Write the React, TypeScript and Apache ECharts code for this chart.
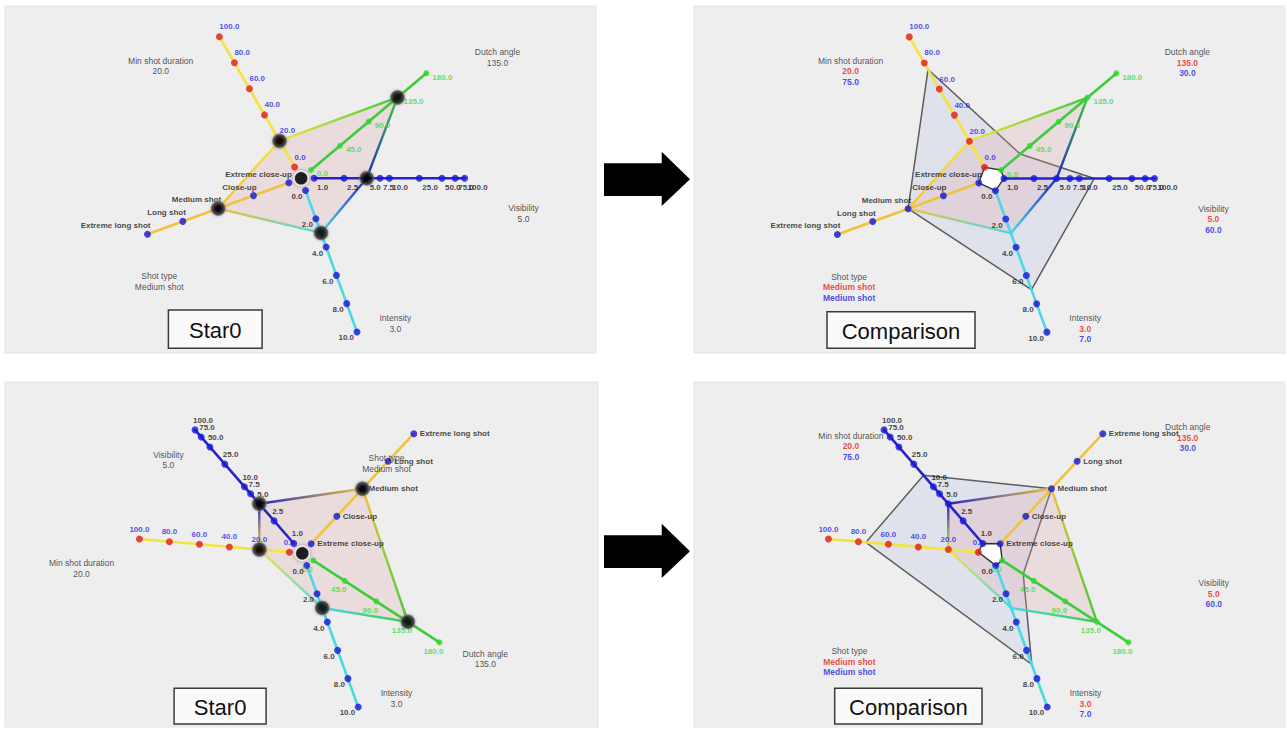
import React, { useEffect, useRef } from "react";
import * as echarts from "echarts";

const W = 1287;
const H = 729;

// ---------- data ----------
const axisNames = ["Min shot duration", "Dutch angle", "Visibility", "Intensity", "Shot type"];
const minShotTicks = [0, 20, 40, 60, 80, 100];
const dutchTicks = [0, 45, 90, 135, 180];
const visibilityTicks = [1, 2.5, 5, 7.5, 10, 25, 50, 75, 100];
const intensityTicks = [0, 2, 4, 6, 8, 10];
const shotTypes = ["Extreme close-up", "Close-up", "Medium shot", "Long shot", "Extreme long shot"];

const star0Values: (number | string)[] = [20, 135, 5, 3, "Medium shot"];
const comparisonValues: (number | string)[] = [75, 30, 60, 7, "Medium shot"];
const panelTitles = ["Star0", "Comparison", "Star0", "Comparison"];

const numericTicks = [minShotTicks, dutchTicks, visibilityTicks, intensityTicks];

// ---------- styles / layout ----------
const FONT = "'Liberation Sans', Arial, sans-serif";
const INNER = 13;
const OUTER = 163.5;
const axisColors = ["#f4e33e", "#3ccc3c", "#2626c8", "#4ad8e6", "#f1c33b"];
const tickDotColors = ["#e21a1a", "#30d830", "#1515d8", "#1515d8", "#1515d8"];
const tickLabelColors = ["#2424ea", "#3fd83f", "#141414", "#141414", "#141414"];

type Place = [number, number, string];
const topTickPlace: Place[] = [[0, -10, "left"], [6, 4, "left"], [3, 9, "left"], [-3, 6, "right"], [3, -8.5, "right"]];
const bottomTickPlace: Place[] = [[0, -10, "center"], [-6, 9, "center"], [-2, -9.5, "left"], [-3, 6, "right"], [6, 0, "left"]];
const topNames: [number, number][] = [[-140.4, -117.3], [196.4, -126], [222.4, 30.4], [94.2, 140], [-141.9, 98.4]];
const bottomNames: [number, number][] = [[-220.8, 10], [183, 100.7], [-133.9, -98.3], [94.2, 140], [84.2, -95]];
const topAngles = [120, 40, 0, -70, 200];
const bottomAngles = [175, -33, 131, -70, 47];

interface Layout {
  cx: number; cy: number; rect: number[]; angles: number[]; compare: boolean;
  box: number[]; tickPlace: Place[]; names: [number, number][];
}
const layouts: Layout[] = [
  { cx: 301.1, cy: 178.3, rect: [5, 6, 591, 347], angles: topAngles, compare: false, box: [168.4, 310, 93.7, 38.3], tickPlace: topTickPlace, names: topNames },
  { cx: 991, cy: 178.5, rect: [694, 6, 591, 347], angles: topAngles, compare: true, box: [827, 311.7, 148, 36.6], tickPlace: topTickPlace, names: topNames },
  { cx: 302.3, cy: 553.3, rect: [5, 382, 593, 345], angles: bottomAngles, compare: false, box: [174.1, 688.3, 92, 35.7], tickPlace: bottomTickPlace, names: bottomNames },
  { cx: 991.3, cy: 553.3, rect: [694, 382, 591, 345], angles: bottomAngles, compare: true, box: [834.7, 688.3, 147.3, 35.7], tickPlace: bottomTickPlace, names: topNames },
];

// ---------- scales ----------
function norm(axis: number, v: number | string, linearVisibility = false): number {
  if (axis === 4) return shotTypes.indexOf(v as string) / (shotTypes.length - 1);
  const t = numericTicks[axis];
  const min = t[0];
  const max = t[t.length - 1];
  const x = v as number;
  if (axis === 2) {
    // the source tool places the comparison outline linearly on this axis
    if (linearVisibility) return x / max;
    return Math.log10(x / min) / Math.log10(max / min);
  }
  return (x - min) / (max - min);
}

function at(p: Layout, axis: number, n: number): [number, number] {
  const a = (p.angles[axis] * Math.PI) / 180;
  const r = INNER + (OUTER - INNER) * n;
  return [p.cx + r * Math.cos(a), p.cy - r * Math.sin(a)];
}

function angularOrder(p: Layout): number[] {
  const idx = [0, 1, 2, 3, 4];
  return idx.sort((a, b) => ((p.angles[a] + 360) % 360) - ((p.angles[b] + 360) % 360));
}

function fmt(v: number | string) {
  return typeof v === "number" ? v.toFixed(1) : v;
}

function buildOption() {
  const greyPolys: [number, number][][] = [];
  const pinkPolys: [number, number][][] = [];
  const centerPolys: [number, number][][] = [];
  const axisLines: number[][] = [];
  const edges: number[][] = [];
  const ticks: any[] = [];
  const markers: any[] = [];
  const centers: any[] = [];
  const names: any[] = [];

  layouts.forEach((p) => {
    const order = angularOrder(p);
    for (let a = 0; a < 5; a++) {
      const s = at(p, a, 0);
      const e = at(p, a, 1);
      axisLines.push([s[0], s[1], e[0], e[1], a]);
    }
    const starPts = order.map((a) => at(p, a, norm(a, star0Values[a])));
    pinkPolys.push(starPts);
    order.forEach((a, k) => {
      const b = order[(k + 1) % 5];
      const s = at(p, a, norm(a, star0Values[a]));
      const e = at(p, b, norm(b, star0Values[b]));
      edges.push([s[0], s[1], e[0], e[1], a, b]);
    });
    if (p.compare) {
      greyPolys.push(order.map((a) => at(p, a, norm(a, comparisonValues[a], true))));
      centerPolys.push(order.map((a) => at(p, a, 0)));
    } else {
      order.forEach((a) => {
        const q = at(p, a, norm(a, star0Values[a]));
        markers.push([q[0], q[1]]);
      });
      centers.push([p.cx, p.cy]);
    }
    for (let a = 0; a < 5; a++) {
      const list: (number | string)[] = a === 4 ? shotTypes : numericTicks[a];
      const [dx, dy, align] = p.tickPlace[a];
      list.forEach((v) => {
        const q = at(p, a, norm(a, v));
        ticks.push({
          value: [q[0], q[1]],
          symbolSize: a === 1 ? 6 : 7,
          itemStyle: { color: tickDotColors[a] },
          label: {
            show: true,
            position: "inside",
            formatter: fmt(v),
            align,
            verticalAlign: "middle",
            offset: [dx, dy],
            color: tickLabelColors[a],
            fontSize: 8,
            fontWeight: "bold",
            fontFamily: FONT,
          },
        });
      });
    }
    for (let a = 0; a < 5; a++) {
      const [ox, oy] = p.names[a];
      const lines = p.compare
        ? `{n|${axisNames[a]}}\n{r|${fmt(star0Values[a])}}\n{b|${fmt(comparisonValues[a])}}`
        : `{n|${axisNames[a]}}\n{n|${fmt(star0Values[a])}}`;
      names.push({
        value: [p.cx + ox, p.cy + oy],
        label: {
          show: true,
          position: "inside",
          formatter: lines,
          align: "center",
          verticalAlign: "top",
          offset: [0, -5.5],
          lineHeight: 10.5,
          rich: {
            n: { color: "#262626", fontSize: 8.5, fontFamily: FONT, lineHeight: 10.5 },
            r: { color: "#e82020", fontSize: 8.5, fontFamily: FONT, fontWeight: "bold", lineHeight: 10.5 },
            b: { color: "#2222e0", fontSize: 8.5, fontFamily: FONT, fontWeight: "bold", lineHeight: 10.5 },
          },
        },
      });
    }
  });

  const graphics: any[] = [];
  layouts.forEach((p) => {
    graphics.push({
      type: "rect", z: 0,
      shape: { x: p.rect[0], y: p.rect[1], width: p.rect[2], height: p.rect[3] },
      style: { fill: "#eeeeee", stroke: "#e3e3e3", lineWidth: 1 },
    });
  });
  layouts.forEach((p, pi) => {
    graphics.push({
      type: "rect", z: 100,
      shape: { x: p.box[0], y: p.box[1], width: p.box[2], height: p.box[3] },
      style: { fill: "#fafafa", stroke: "#3a3a3a", lineWidth: 1.5 },
    });
    graphics.push({
      type: "text", z: 101,
      x: p.box[0] + p.box[2] / 2, y: p.box[1] + p.box[3] / 2 + 1,
      style: { text: panelTitles[pi], fill: "#111", font: `22px ${FONT}`, align: "center", verticalAlign: "middle" },
    });
  });
  [0, 372].forEach((oy) => {
    graphics.push({
      type: "polygon", z: 100,
      shape: {
        points: [[604, 163.3 + oy], [661.7, 163.3 + oy], [661.7, 151.7 + oy], [690, 179.3 + oy], [661.7, 206 + oy], [661.7, 196 + oy], [604, 196 + oy]],
      },
      style: { fill: "#000" },
    });
  });

  const polySeries = (polys: [number, number][][], style: any, z: number) => ({
    type: "custom",
    z,
    silent: true,
    clip: false,
    data: polys.map((poly) => [poly[0][0], poly[0][1]]),
    renderItem: (params: any, api: any) => ({
      type: "polygon",
      shape: { points: polys[params.dataIndex].map((q) => api.coord(q)) },
      style,
    }),
  });

  const markerColor = new echarts.graphic.RadialGradient(0.5, 0.5, 0.5, [
    { offset: 0, color: "#000000" },
    { offset: 0.55, color: "#0a0a0a" },
    { offset: 0.8, color: "#333333" },
    { offset: 1, color: "#8a8a8a" },
  ]);

  return {
    animation: false,
    backgroundColor: "#ffffff",
    textStyle: { fontFamily: FONT },
    grid: { left: 0, right: 0, top: 0, bottom: 0, containLabel: false },
    xAxis: { type: "value", min: 0, max: W, show: false },
    yAxis: { type: "value", min: 0, max: H, inverse: true, show: false },
    graphic: { elements: graphics },
    series: [
      polySeries(greyPolys, { fill: "rgba(172,182,226,0.22)", stroke: "#5c5c5c", lineWidth: 1.5 }, 3),
      polySeries(pinkPolys, { fill: "rgba(226,170,170,0.26)", stroke: "none" }, 4),
      {
        type: "custom",
        z: 5,
        silent: true,
        clip: false,
        data: axisLines,
        renderItem: (params: any, api: any) => {
          const s = api.coord([api.value(0), api.value(1)]);
          const e = api.coord([api.value(2), api.value(3)]);
          return {
            type: "line",
            shape: { x1: s[0], y1: s[1], x2: e[0], y2: e[1] },
            style: { stroke: axisColors[api.value(4)], lineWidth: 2.6, lineCap: "round" },
          };
        },
      },
      {
        type: "custom",
        z: 6,
        silent: true,
        clip: false,
        data: edges,
        renderItem: (params: any, api: any) => {
          const s = api.coord([api.value(0), api.value(1)]);
          const e = api.coord([api.value(2), api.value(3)]);
          const grad = new echarts.graphic.LinearGradient(s[0], s[1], e[0], e[1], [
            { offset: 0, color: axisColors[api.value(4)] },
            { offset: 1, color: axisColors[api.value(5)] },
          ], true);
          return {
            type: "line",
            shape: { x1: s[0], y1: s[1], x2: e[0], y2: e[1] },
            style: { stroke: grad, lineWidth: 2.4, lineCap: "round" },
          };
        },
      },
      polySeries(centerPolys, { fill: "#ffffff", stroke: "#333333", lineWidth: 1.4 }, 7),
      {
        type: "scatter",
        z: 8,
        silent: true,
        symbol: "circle",
        data: ticks,
      },
      {
        type: "scatter",
        z: 9,
        silent: true,
        symbol: "circle",
        symbolSize: 15,
        itemStyle: { color: markerColor, shadowBlur: 3, shadowColor: "rgba(0,0,0,0.35)" },
        data: markers,
      },
      {
        type: "scatter",
        z: 9,
        silent: true,
        symbol: "circle",
        symbolSize: 14,
        itemStyle: { color: "#000", borderColor: "#ffffff", borderWidth: 1.5, shadowBlur: 4, shadowColor: "rgba(0,0,0,0.45)" },
        data: centers,
      },
      {
        type: "scatter",
        z: 10,
        silent: true,
        symbolSize: 1,
        itemStyle: { color: "rgba(0,0,0,0)" },
        data: names,
      },
    ],
  };
}

export default function App() {
  const ref = useRef<HTMLDivElement>(null);
  useEffect(() => {
    const chart = echarts.init(ref.current!, null, { renderer: "svg" });
    chart.setOption(buildOption() as any);
    return () => chart.dispose();
  }, []);
  return (
    <div
      ref={ref}
      style={{ position: "absolute", left: 0, top: 0, width: W, height: H, background: "#ffffff" }}
    />
  );
}
